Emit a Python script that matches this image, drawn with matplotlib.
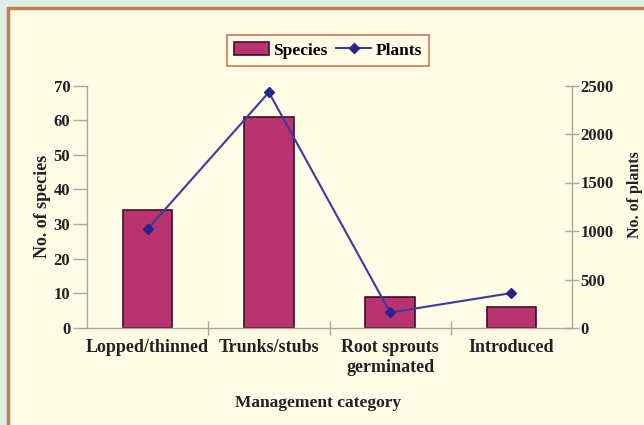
import matplotlib.pyplot as plt
from matplotlib.patches import Rectangle, Patch
from matplotlib.lines import Line2D

# --- data ---
categories = ["Lopped/thinned", "Trunks/stubs", "Root sprouts\ngerminated", "Introduced"]
species = [34, 61, 9, 6]
plants = [1020, 2430, 160, 360]

species_ticks = [0, 10, 20, 30, 40, 50, 60, 70]
plants_ticks = [0, 500, 1000, 1500, 2000, 2500]

# --- style ---
BAR_COLOR = "#b8336f"
BAR_EDGE = "#3b1228"
LINE_COLOR = "#3c3c9c"
MARKER_COLOR = "#26268a"
SPINE_COLOR = "#aaa892"
OUTER_BG = "#dcefe4"
PANEL_BG = "#fefbe7"
BORDER = "#c97c52"
TEXT = "#222222"

plt.rcParams["font.family"] = ["Liberation Serif", "DejaVu Serif"]
plt.rcParams["font.weight"] = "bold"

fig = plt.figure(figsize=(6.44, 4.25), dpi=100, facecolor=OUTER_BG)

# cream panel with orange frame, kept behind the axes
fig.patches.append(Rectangle((8 / 644, -0.05), 1.1, 1 - 8 / 425 + 0.05,
                             transform=fig.transFigure, facecolor=PANEL_BG,
                             edgecolor=BORDER, linewidth=2.5, zorder=-10))

ax = fig.add_axes([87 / 644, 1 - 328 / 425, 485 / 644, 242.5 / 425])
ax.set_facecolor("none")
ax2 = ax.twinx()
ax2.set_facecolor("none")

x = list(range(len(categories)))
ax.bar(x, species, width=0.41, color=BAR_COLOR, edgecolor=BAR_EDGE,
       linewidth=1.2, zorder=2)
ax2.plot(x, plants, color=LINE_COLOR, linewidth=1.5, marker="D",
         markersize=5, markerfacecolor=MARKER_COLOR,
         markeredgecolor=MARKER_COLOR, zorder=3)

ax.set_xlim(-0.5, len(categories) - 0.5)
ax.set_ylim(0, 70)
ax2.set_ylim(0, 2500)

ax.set_yticks(species_ticks)
ax2.set_yticks(plants_ticks)
ax.set_xticks(x)
ax.set_xticklabels(categories, fontsize=13, fontweight="bold", color=TEXT,
                   linespacing=1.25)
ax.set_xticks([0.5, 1.5, 2.5], minor=True)

ax.tick_params(axis="x", which="major", length=0, pad=8)
ax.tick_params(axis="x", which="minor", direction="inout", length=10,
               color=SPINE_COLOR, width=1)
ax.tick_params(axis="y", direction="out", length=10, color=SPINE_COLOR,
               width=1, labelsize=12, labelcolor=TEXT, pad=2)
ax2.tick_params(axis="y", direction="inout", length=10, color=SPINE_COLOR,
                width=1, labelsize=12, labelcolor=TEXT, pad=1)

for a in (ax, ax2):
    a.spines["top"].set_visible(False)
    for s in ("left", "right", "bottom"):
        a.spines[s].set_color(SPINE_COLOR)
        a.spines[s].set_linewidth(1)
ax.spines["right"].set_visible(False)
ax2.spines["left"].set_visible(False)
ax2.spines["bottom"].set_visible(False)

ax.set_ylabel("No. of species", fontsize=13, fontweight="bold", color=TEXT)
ax.yaxis.set_label_coords(-0.074, 0.5)
ax2.set_ylabel("No. of plants", fontsize=11.5, fontweight="bold", color=TEXT)
ax2.yaxis.set_label_coords(1.113, 0.55)
ax.set_xlabel("Management category", fontsize=12.5, fontweight="bold", color=TEXT)
ax.xaxis.set_label_coords(0.477, -0.276)

handles = [
    Patch(facecolor=BAR_COLOR, edgecolor=BAR_EDGE, linewidth=1.2),
    Line2D([], [], color=LINE_COLOR, linewidth=1.5, marker="D", markersize=5,
           markerfacecolor=MARKER_COLOR, markeredgecolor=MARKER_COLOR),
]
leg = fig.legend(handles, ["Species", "Plants"], loc="center",
                 bbox_to_anchor=(328 / 644, 1 - 50.5 / 425), ncol=2,
                 prop={"family": ["Liberation Serif"], "weight": "bold", "size": 12.5},
                 frameon=True, fancybox=False, handlelength=2.0,
                 handletextpad=0.25, columnspacing=0.5, borderpad=0.4,
                 borderaxespad=0)
leg.get_frame().set_facecolor(PANEL_BG)
leg.get_frame().set_edgecolor(BORDER)
leg.get_frame().set_linewidth(1.2)
leg.get_frame().set_alpha(1)

fig.savefig("out.png", dpi=100, facecolor=OUTER_BG)
